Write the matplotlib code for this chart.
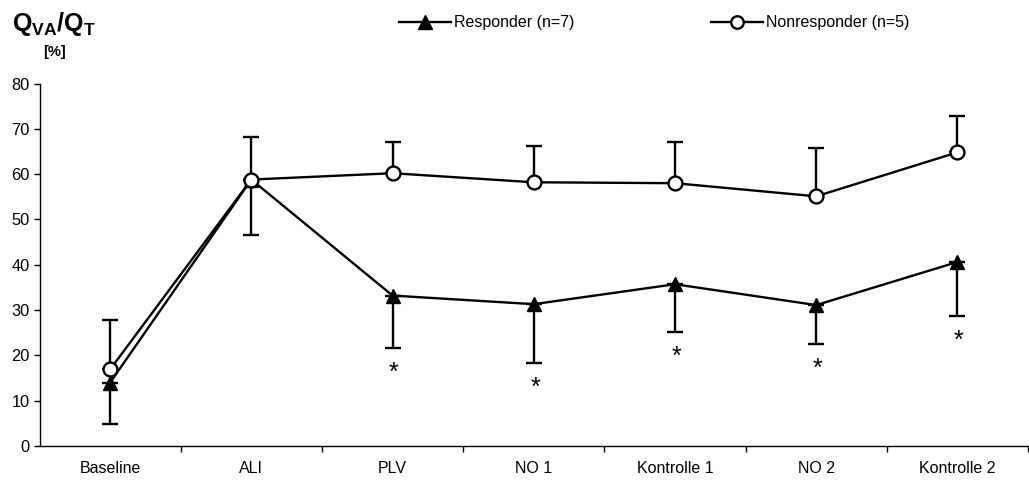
import numpy as np
import matplotlib
matplotlib.use("Agg")
import matplotlib.pyplot as plt

plt.rcParams['font.family'] = ['Liberation Sans', 'DejaVu Sans']
plt.rcParams['mathtext.fontset'] = 'custom'
plt.rcParams['mathtext.rm'] = 'Liberation Sans'
plt.rcParams['mathtext.bf'] = 'Liberation Sans:bold'

# Daten
phasen = ['Baseline', 'ALI', 'PLV', 'NO 1', 'Kontrolle 1', 'NO 2', 'Kontrolle 2']
resp_mw = [14.0, 58.8, 33.2, 31.3, 35.7, 31.1, 40.6]
resp_sd = [9.1, 12.3, 11.5, 12.9, 10.5, 8.5, 11.9]
nonresp_mw = [16.9, 58.8, 60.2, 58.2, 58.0, 55.1, 64.8]
nonresp_sd = [11.0, 9.5, 6.8, 8.1, 9.2, 10.6, 8.1]
signifikant = [False, False, True, True, True, True, True]

x = np.arange(len(phasen))

fig = plt.figure(figsize=(10.29, 4.82), dpi=100)
ax = fig.add_axes([39.5 / 1029, 36 / 482, (1028 - 39.5) / 1029, (446 - 83.5) / 482])

# Responder: Fehlerbalken nach unten
ax.errorbar(x, resp_mw, yerr=[resp_sd, np.zeros(len(x))], color='black', lw=1.7,
            capsize=5.8, capthick=1.7, elinewidth=1.7, zorder=2, fmt='none')
l1, = ax.plot(x, resp_mw, '-^', color='black', lw=1.7, markersize=10.5,
              markerfacecolor='black', zorder=3, label='Responder (n=7)')

# Nonresponder: Fehlerbalken nach oben
ax.errorbar(x, nonresp_mw, yerr=[np.zeros(len(x)), nonresp_sd], color='black', lw=1.7,
            capsize=5.8, capthick=1.7, elinewidth=1.7, zorder=2, fmt='none')
l2, = ax.plot(x, nonresp_mw, '-o', color='black', lw=1.7, markersize=10,
              markerfacecolor='white', markeredgewidth=1.7, zorder=4,
              label='Nonresponder (n=5)')

# Sterne
for i in range(len(x)):
    if signifikant[i]:
        ax.text(x[i] + 0.01, resp_mw[i] - resp_sd[i] - 5.6, '*', ha='center', va='center',
                fontsize=18)

ax.set_xlim(-0.5, 6.5)
ax.set_ylim(0, 80)
ax.set_yticks(np.arange(0, 81, 10))
ax.set_xticks(x)
ax.set_xticklabels(phasen, fontsize=11.5)
ax.set_xticks(np.arange(0.5, 7, 1), minor=True)
ax.tick_params(axis='x', which='major', length=0, pad=11)
ax.tick_params(axis='x', which='minor', length=4, direction='out', width=1)
ax.tick_params(axis='y', length=4, direction='out', width=1, labelsize=11.8, pad=3)
ax.spines['top'].set_visible(False)
ax.spines['right'].set_visible(False)
ax.spines['left'].set_linewidth(1)
ax.spines['bottom'].set_linewidth(1)

fig.text(12 / 1029, 1 - 24 / 482, r'$\mathbf{Q_{VA}/Q_T}$', fontsize=18, va='center')
fig.text(55 / 1029, 1 - 52 / 482, '[%]', fontsize=10.5, fontweight='bold',
         ha='center', va='center')

fig.legend(handles=[l1, l2], loc='center left', bbox_to_anchor=(393 / 1029, 1 - 23 / 482),
           ncol=2, frameon=False, fontsize=11.5, handlelength=3.25, handletextpad=0.18,
           columnspacing=8.55, borderaxespad=0, markerscale=0.9)

fig.savefig('out.png', dpi=100)
